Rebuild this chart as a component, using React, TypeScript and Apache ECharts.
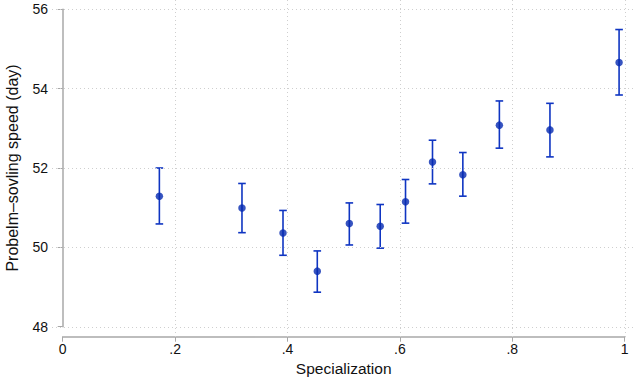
import React, { useEffect, useRef } from "react";
import * as echarts from "echarts";

const specialization = [0.172, 0.319, 0.392, 0.453, 0.510, 0.565, 0.610, 0.658, 0.712, 0.777, 0.867, 0.990];
const speed = [51.29, 50.99, 50.36, 49.40, 50.60, 50.53, 51.15, 52.15, 51.83, 53.08, 52.96, 54.66];
const upper = [52.0, 51.61, 50.93, 49.91, 51.12, 51.08, 51.71, 52.70, 52.39, 53.69, 53.63, 55.49];
const lower = [50.59, 50.37, 49.80, 48.87, 50.06, 49.98, 50.61, 51.60, 51.29, 52.50, 52.28, 53.84];
const xTicks = [0.2, 0.4, 0.6, 0.8, 1];
const yTicks = [48, 50, 52, 54, 56];

const FONT = "'Liberation Sans', Arial, Helvetica, sans-serif";
const BLUE = "#0f35c2";
const DOT = "#0529b0";

export default function App() {
  const ref = useRef<HTMLDivElement>(null);
  useEffect(() => {
    if (!ref.current) return;
    const chart = echarts.init(ref.current, undefined, { renderer: "svg" });
    const fmt = (v: number) => {
      if (Math.abs(v) < 1e-9) return "0";
      if (Math.abs(v - 1) < 1e-9) return "1";
      return v.toFixed(1).replace(/^0/, "");
    };
    const gridStyle = { color: "#cfcfcf", width: 1, type: [1, 3] as any };
    const option: any = {
      animation: false,
      backgroundColor: "#ffffff",
      textStyle: { fontFamily: FONT },
      grid: [
        { left: 52, right: 0, top: 0, bottom: 43, outerBoundsMode: "none", containLabel: false },
        { left: 62.7, right: 10.3, top: 9.3, bottom: 53.3, outerBoundsMode: "none", containLabel: false },
      ],
      xAxis: [
        {
          gridIndex: 0, type: "value", min: -0.019, max: 1.0178, show: false,
          splitLine: { show: false },
        },
        {
          gridIndex: 1, type: "value", min: 0, max: 1, interval: 0.2, offset: 10,
          axisLine: { show: true, lineStyle: { color: "#a8a8a8", width: 1.5 } },
          axisTick: { show: true, length: 5, lineStyle: { color: "#a8a8a8", width: 1 } },
          axisLabel: { color: "#111", fontSize: 14, margin: 5, formatter: fmt, fontFamily: FONT },
          splitLine: { show: false },
          name: "Specialization", nameLocation: "middle", nameGap: 24,
          nameTextStyle: { color: "#111", fontSize: 15.5, fontFamily: FONT },
        },
      ],
      yAxis: [
        {
          gridIndex: 0, type: "value", min: 47.748, max: 56.234, show: false,
          splitLine: { show: false },
        },
        {
          gridIndex: 1, type: "value", min: 48, max: 56, interval: 2, offset: 10.7,
          axisLine: { show: true, lineStyle: { color: "#a8a8a8", width: 1.5 } },
          axisTick: { show: true, length: 5, lineStyle: { color: "#a8a8a8", width: 1 } },
          axisLabel: { color: "#111", fontSize: 14, margin: 4, fontFamily: FONT },
          splitLine: { show: false },
          name: "Probelm\u2013sovling speed (day)", nameLocation: "middle", nameGap: 32,
          nameTextStyle: { color: "#111", fontSize: 16, fontFamily: FONT },
        },
      ],
      series: [
        {
          type: "line", xAxisIndex: 0, yAxisIndex: 0, data: [], silent: true,
          markLine: {
            silent: true, symbol: ["none", "none"], animation: false,
            label: { show: false },
            lineStyle: gridStyle,
            emphasis: { disabled: true },
            data: [
              ...xTicks.map((v) => ({ xAxis: v })),
              ...yTicks.map((v) => ({ yAxis: v })),
            ],
          },
        },
        {
          type: "custom", xAxisIndex: 1, yAxisIndex: 1, silent: true, z: 3,
          data: specialization.map((x, i) => [x, lower[i], upper[i]]),
          renderItem: (_p: any, api: any) => {
            const x = api.value(0);
            const lo = api.coord([x, api.value(1)]);
            const hi = api.coord([x, api.value(2)]);
            const w = 3.8;
            const style = { stroke: BLUE, lineWidth: 1.6, fill: "none" };
            return {
              type: "group",
              children: [
                { type: "line", shape: { x1: lo[0], y1: lo[1], x2: hi[0], y2: hi[1] }, style },
                { type: "line", shape: { x1: hi[0] - w, y1: hi[1], x2: hi[0] + w, y2: hi[1] }, style },
                { type: "line", shape: { x1: lo[0] - w, y1: lo[1], x2: lo[0] + w, y2: lo[1] }, style },
              ],
            };
          },
        },
        {
          type: "scatter", xAxisIndex: 1, yAxisIndex: 1, z: 4, silent: true,
          symbol: "circle", symbolSize: 7.5,
          itemStyle: { color: DOT },
          data: specialization.map((x, i) => [x, speed[i]]),
        },
      ],
    };
    chart.setOption(option);
    return () => chart.dispose();
  }, []);
  return <div ref={ref} style={{ width: 635, height: 380, position: "absolute", left: 0, top: 0 }} />;
}
